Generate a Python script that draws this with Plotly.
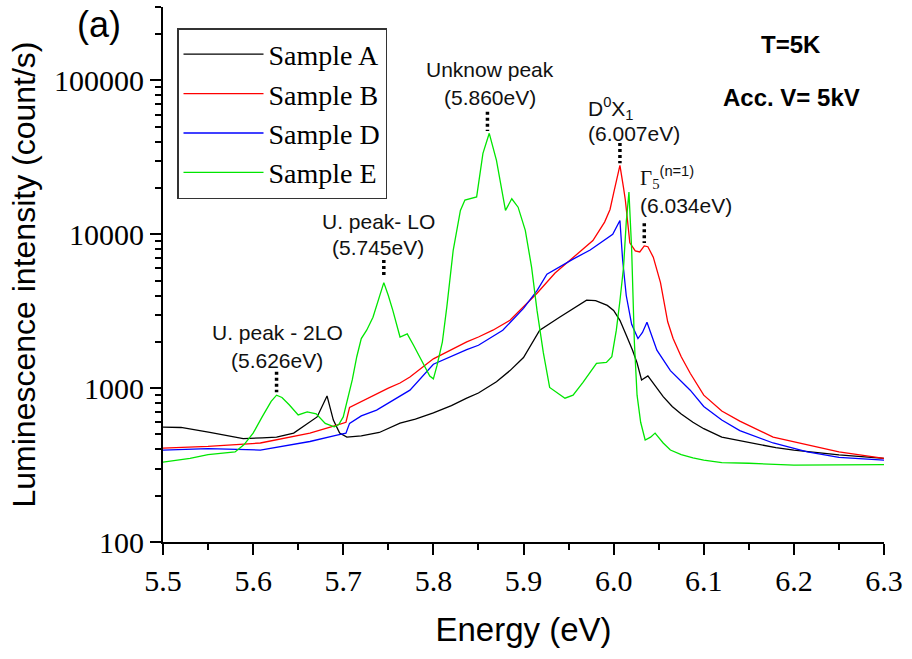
import plotly.graph_objects as go

# ---------------- data ----------------
energy_A = [5.50, 5.52, 5.552, 5.57, 5.589, 5.61, 5.626, 5.645, 5.66, 5.671, 5.682, 5.689, 5.696, 5.704,
            5.72, 5.74, 5.763, 5.78, 5.80, 5.82, 5.837, 5.85, 5.87, 5.885, 5.90, 5.918, 5.94, 5.955,
            5.97, 5.98, 5.993, 6.000, 6.007, 6.015, 6.021, 6.026, 6.031, 6.038, 6.045, 6.055, 6.065,
            6.075, 6.088, 6.10, 6.12, 6.15, 6.18, 6.20, 6.25, 6.30]
intensity_A = [558, 555, 515, 490, 470, 475, 480, 510, 590, 650, 890, 620, 510, 480,
               490, 515, 593, 630, 690, 770, 860, 930, 1100, 1300, 1580, 2380, 2890, 3300,
               3730, 3700, 3450, 3200, 2760, 2140, 1765, 1460, 1130, 1200, 1050, 880, 760,
               680, 600, 545, 480, 445, 410, 395, 368, 350]

energy_B = [5.50, 5.55, 5.608, 5.663, 5.693, 5.703, 5.707, 5.72, 5.737, 5.75, 5.763, 5.774, 5.80,
            5.82, 5.837, 5.85, 5.866, 5.885, 5.90, 5.915, 5.935, 5.955, 5.977, 5.99, 5.996, 6.000,
            6.004, 6.007, 6.011, 6.013, 6.018, 6.024, 6.029, 6.034, 6.038, 6.044, 6.052, 6.060,
            6.066, 6.075, 6.085, 6.10, 6.12, 6.14, 6.177, 6.215, 6.25, 6.30]
intensity_B = [408, 418, 440, 510, 575, 600, 750, 820, 920, 1000, 1080, 1180, 1550,
               1770, 2000, 2150, 2380, 2760, 3400, 4140, 5600, 7100, 9100, 12000, 14500, 18500,
               23000, 28000, 20000, 16700, 8800, 7800, 7670, 8400, 8300, 7100, 4850, 2700,
               2100, 1600, 1250, 900, 710, 610, 480, 430, 385, 350]

energy_D = [5.50, 5.55, 5.608, 5.663, 5.693, 5.703, 5.707, 5.72, 5.737, 5.75, 5.774, 5.80, 5.82,
            5.837, 5.85, 5.877, 5.90, 5.915, 5.926, 5.955, 5.974, 5.999, 6.007, 6.010, 6.014,
            6.020, 6.027, 6.032, 6.037, 6.042, 6.048, 6.063, 6.075, 6.085, 6.10, 6.12, 6.14,
            6.177, 6.215, 6.25, 6.30]
intensity_D = [396, 405, 396, 450, 495, 510, 590, 660, 720, 800, 970, 1430, 1620,
               1780, 1900, 2380, 3300, 4300, 5500, 6900, 7900, 10000, 12300, 6800, 4000,
               2600, 2100, 2300, 2680, 2200, 1765, 1300, 1100, 970, 760, 620, 530,
               440, 385, 355, 340]

energy_E = [5.50, 5.53, 5.55, 5.58, 5.59, 5.60, 5.61, 5.62, 5.626, 5.632, 5.64, 5.65, 5.66, 5.67,
            5.68, 5.69, 5.695, 5.70, 5.71, 5.715, 5.72, 5.726, 5.733, 5.74, 5.745, 5.75, 5.755,
            5.763, 5.771, 5.778, 5.785, 5.79, 5.796, 5.80, 5.804, 5.81, 5.815, 5.822, 5.830,
            5.835, 5.841, 5.848, 5.855, 5.862, 5.870, 5.880, 5.887, 5.894, 5.902, 5.909, 5.915,
            5.922, 5.929, 5.946, 5.955, 5.966, 5.981, 5.992, 5.998, 6.003, 6.007, 6.011, 6.014,
            6.017, 6.020, 6.023, 6.026, 6.030, 6.035, 6.041, 6.046, 6.055, 6.063, 6.075, 6.088,
            6.10, 6.12, 6.15, 6.20, 6.25, 6.30]
intensity_E = [330, 350, 370, 385, 430, 510, 650, 820, 900, 870, 780, 670, 700, 680,
               590, 560, 580, 650, 1130, 1600, 2100, 2380, 2890, 4000, 4850, 4000, 3200,
               2150, 2250, 1900, 1590, 1400, 1200, 1150, 1400, 2000, 3400, 7870, 14300,
               16700, 17000, 17500, 33600, 45300, 30200, 14300, 17000, 15000, 10600, 6100, 3200,
               1700, 1010, 860, 900, 1090, 1450, 1470, 1600, 2380, 3700, 6100, 12000,
               18800, 8000, 2000, 900, 600, 460, 480, 510, 440, 396, 370, 352,
               340, 328, 325, 316, 318, 318]

series = [
    ("Sample A", energy_A, intensity_A, "#000000"),
    ("Sample B", energy_B, intensity_B, "#ff0000"),
    ("Sample D", energy_D, intensity_D, "#0000ff"),
    ("Sample E", energy_E, intensity_E, "#00e600"),
]

# peak markers: (label line 1, label line 2, energy)
peak_labels = [
    ("U. peak - 2LO", "(5.626eV)", 5.626),
    ("U. peak- LO", "(5.745eV)", 5.745),
    ("Unknow peak", "(5.860eV)", 5.860),
    ("D<sup>0</sup>X<sub>1</sub>", "(6.007eV)", 6.007),
    ("<span style=\"font-family:'Liberation Serif'\">Γ<sub>5</sub></span><sup>(n=1)</sup>", "(6.034eV)", 6.034),
]

fig = go.Figure()
for name, xs, ys, col in series:
    fig.add_trace(go.Scatter(x=xs, y=ys, mode="lines", name=name,
                             line=dict(color=col, width=1.3)))

SERIF = "Liberation Serif"
SANS = "Liberation Sans"

# ---------- layout geometry helpers ----------
PT, PB = 7, 542   # plot area top/bottom in px
def py(px):
    return (PB - px) / (PB - PT)

# dotted marker segments (paper y) and label positions
seg = [(0.318, 0.280), (0.527, 0.495), (0.804, 0.768), (0.746, 0.708), (0.596, 0.559)]
lab_xy = [  # (x energy, anchor, y1 px, y2 px)
    (5.627, "center", 332, 361),
    (5.739, "center", 221, 248),
    (5.863, "center", 70, 97),
    (5.9694, "left", 108, 133),
    (6.027, "left", 178, 205),
]
shapes = []
annotations = []
for (l1, l2, e), (y0, y1), (lx, anc, ly1, ly2) in zip(peak_labels, seg, lab_xy):
    shapes.append(dict(type="line", xref="x", yref="paper", x0=e, x1=e, y0=y0, y1=y1,
                       line=dict(color="black", width=3.5, dash="3px,3px")))
    annotations.append(dict(x=lx, y=py(ly1), xref="x", yref="paper", text=l1, showarrow=False,
                            xanchor=anc, yanchor="middle", font=dict(family=SANS, size=21, color="#111")))
    annotations.append(dict(x=lx, y=py(ly2), xref="x", yref="paper", text=l2, showarrow=False,
                            xanchor=anc, yanchor="middle", font=dict(family=SANS, size=21, color="#111")))

annotations += [
    dict(x=6.197, y=py(45), xref="x", yref="paper", text="<b>T=5K</b>", showarrow=False,
         xanchor="center", yanchor="middle", font=dict(family=SANS, size=24, color="black")),
    dict(x=6.197, y=py(97), xref="x", yref="paper", text="<b>Acc. V= 5kV</b>", showarrow=False,
         xanchor="center", yanchor="middle", font=dict(family=SANS, size=24, color="black")),
    dict(x=(99 - 163) / 721, y=py(24), xref="paper", yref="paper", text="(a)", showarrow=False,
         xanchor="center", yanchor="middle", font=dict(family=SANS, size=36, color="black")),
]

fig.update_layout(
    width=912, height=659,
    margin=dict(l=163, r=28, t=7, b=117),
    paper_bgcolor="white", plot_bgcolor="white",
    showlegend=True,
    legend=dict(x=(177 - 163) / 721, y=py(28), xanchor="left", yanchor="top",
                bgcolor="white", bordercolor="#333", borderwidth=1.5,
                font=dict(family=SERIF, size=28, color="black"),
                itemwidth=80, tracegroupgap=0),
    xaxis=dict(range=[5.5, 6.3], dtick=0.1, tick0=5.5, tickformat=".1f",
               ticks="outside", ticklen=11, tickwidth=2, tickcolor="black",
               minor=dict(dtick=0.05, ticks="outside", ticklen=6, tickwidth=2, tickcolor="black"),
               showline=True, linewidth=2, linecolor="black", showgrid=False, zeroline=False,
               tickfont=dict(family=SERIF, size=30, color="black"), ticklabelstandoff=0,
               title=dict(text="Energy (eV)", font=dict(family=SANS, size=33, color="black"), standoff=22)),
    yaxis=dict(type="log", range=[2, 5.4771], dtick=1, tickformat="d",
               ticks="outside", ticklen=11, tickwidth=2, tickcolor="black",
               minor=dict(dtick="D1", ticks="outside", ticklen=6, tickwidth=2, tickcolor="black"),
               showline=True, linewidth=2, linecolor="black", showgrid=False, zeroline=False,
               tickfont=dict(family=SERIF, size=30, color="black"), ticklabelstandoff=0,
               title=dict(text="Luminescence intensity (count/s)",
                          font=dict(family=SANS, size=32, color="black"), standoff=9)),
    xaxis2=dict(overlaying="x", side="top", anchor="y", range=[0, 10], dtick=1,
                ticks="inside", ticklen=6, tickwidth=2, tickcolor="black",
                showticklabels=False, showline=True, linewidth=2, linecolor="black",
                showgrid=False, zeroline=False),
    yaxis2=dict(overlaying="y", side="right", anchor="x", range=[0, 10], dtick=1,
                ticks="inside", ticklen=6, tickwidth=2, tickcolor="black",
                showticklabels=False, showline=True, linewidth=2, linecolor="black",
                showgrid=False, zeroline=False),
    shapes=shapes,
    annotations=annotations,
)

fig.write_html("out.html", config={"displayModeBar": False},
               post_script="document.body.style.margin='0';")
